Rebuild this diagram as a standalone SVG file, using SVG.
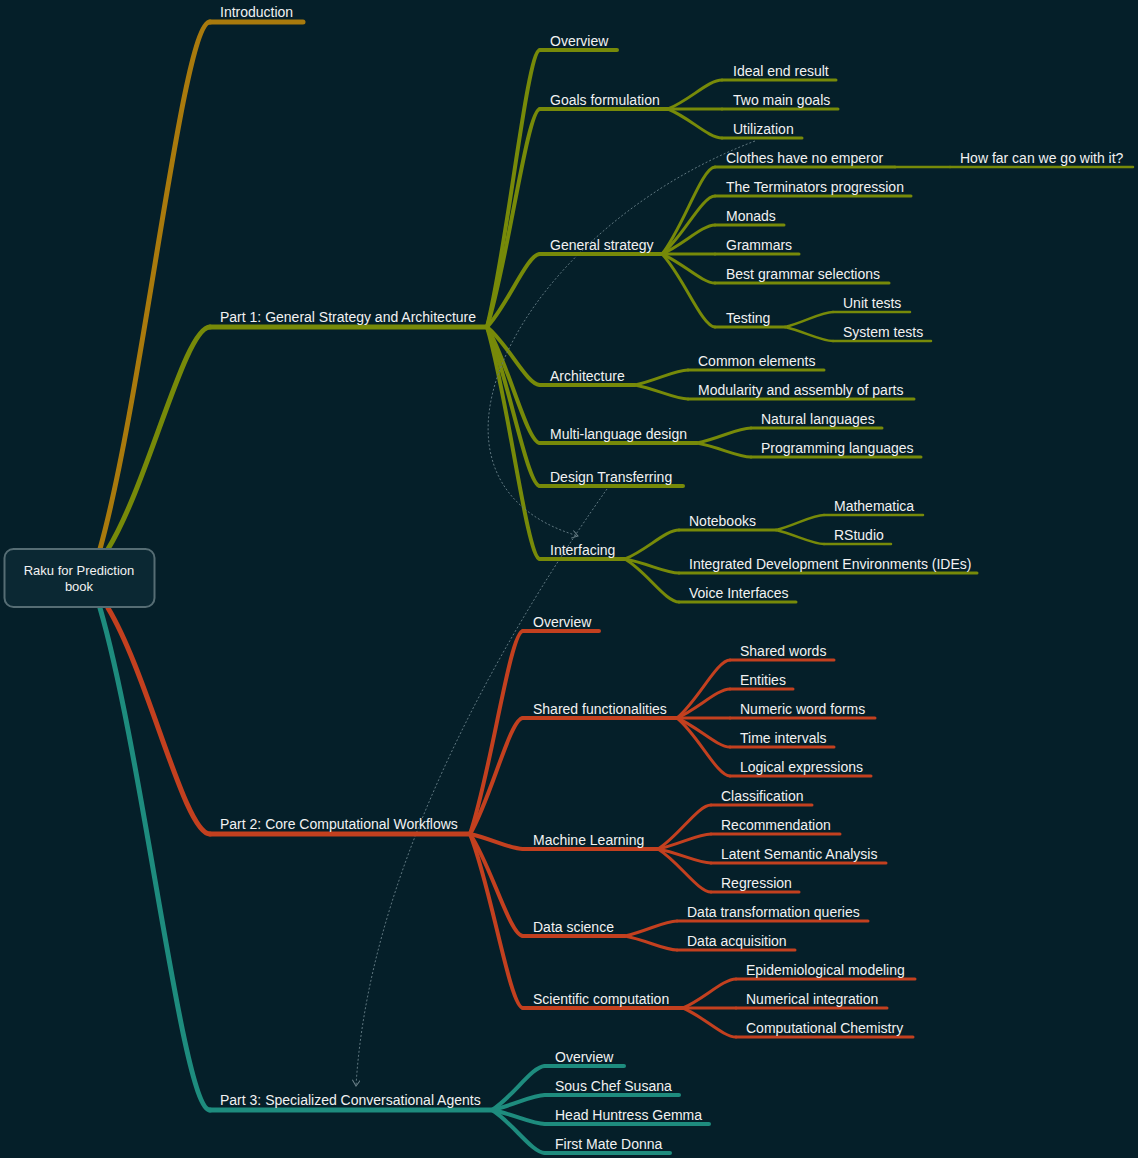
<svg xmlns="http://www.w3.org/2000/svg" width="1138" height="1158" viewBox="0 0 1138 1158">
<defs>
<style>
.bg{fill:#051f29}
.e{fill:none;stroke-linecap:round}
.u{stroke-linecap:round}
.l1{stroke-width:5}
.l2{stroke-width:4}
.l3{stroke-width:3}
.l4{stroke-width:2.5}
.gold{stroke:#a97a0d}
.olive{stroke:#778a09}
.red{stroke:#c3401f}
.teal{stroke:#1e8c7e}
text{font-family:"Liberation Sans",Arial,Helvetica,sans-serif;font-size:14px;fill:#f2f2f2}
.root text{font-size:13px;text-anchor:middle}
.link{fill:none;stroke:#5f7780;stroke-width:1;stroke-dasharray:2 2}
</style>
<marker id="arr" markerWidth="10" markerHeight="10" refX="7" refY="4" orient="auto" markerUnits="userSpaceOnUse">
<path d="M1,0 L7,4 L1,8" fill="none" stroke="#6b8088" stroke-width="1"/>
</marker>
</defs>
<rect class="bg" x="0" y="0" width="1138" height="1158"/>

<g id="connectors">
<path class="e l1 gold" d="M100,549 C144,391 182.5,22 210,22"/>
<path class="e l1 olive" d="M108,549 C149,482 184.5,327 210,327"/>
<path class="e l1 red" d="M108,608 C149,676 184.5,834 210,834"/>
<path class="e l1 teal" d="M100,608 C144,759 182.5,1110 210,1110"/>

<path class="e l2 olive" d="M487,327 C508,244 527,50 540,50"/>
<path class="e l2 olive" d="M487,327 C508,262 527,109 540,109"/>
<path class="e l2 olive" d="M487,327 C508,305 527,254 540,254"/>
<path class="e l2 olive" d="M487,327 C508,344 527,385 540,385"/>
<path class="e l2 olive" d="M487,327 C508,362 527,443 540,443"/>
<path class="e l2 olive" d="M487,327 C508,375 527,486 540,486"/>
<path class="e l2 olive" d="M487,327 C508,397 527,559 540,559"/>

<path class="e l3 olive" d="M668,109 C690,100 708.5,80 722,80"/>
<path class="e l3 olive" d="M668,109 L722,109"/>
<path class="e l3 olive" d="M668,109 C690,118 708.5,138 722,138"/>

<path class="e l3 olive" d="M662,254 C683,228 702,167 715,167"/>
<path class="e l3 olive" d="M662,254 C683,237 702,196 715,196"/>
<path class="e l3 olive" d="M662,254 C683,245 702,225 715,225"/>
<path class="e l3 olive" d="M662,254 L715,254"/>
<path class="e l3 olive" d="M662,254 C683,263 702,283 715,283"/>
<path class="e l3 olive" d="M662,254 C683,276 702,327 715,327"/>

<path class="e l4 olive" d="M895,167 L950,167"/>
<path class="e l4 olive" d="M785,327 C804,322.5 821,312 833,312"/>
<path class="e l4 olive" d="M785,327 C804,331.5 821,341 833,341"/>

<path class="e l3 olive" d="M635,385 C656,380.5 675,370 688,370"/>
<path class="e l3 olive" d="M635,385 C656,389 675,399 688,399"/>

<path class="e l3 olive" d="M697,443 C719,438.5 737.5,428 751,428"/>
<path class="e l3 olive" d="M697,443 C719,447 737.5,457 751,457"/>

<path class="e l3 olive" d="M625,559 C647,550 665.5,530 679,530"/>
<path class="e l3 olive" d="M625,559 C647,563 665.5,573 679,573"/>
<path class="e l3 olive" d="M625,559 C647,572 665.5,602 679,602"/>

<path class="e l4 olive" d="M776,530 C795,525.5 812,515 824,515"/>
<path class="e l4 olive" d="M776,530 C795,534.5 812,544 824,544"/>

<path class="e l2 red" d="M470,834 C491,773 510,631 523,631"/>
<path class="e l2 red" d="M470,834 C491,799 510,718 523,718"/>
<path class="e l2 red" d="M470,834 C491,838.5 510,849 523,849"/>
<path class="e l2 red" d="M470,834 C491,865 510,936 523,936"/>
<path class="e l2 red" d="M470,834 C491,886 510,1008 523,1008"/>

<path class="e l3 red" d="M677,718 C698,700.6 717,660 730,660"/>
<path class="e l3 red" d="M677,718 C698,709 717,689 730,689"/>
<path class="e l3 red" d="M677,718 L730,718"/>
<path class="e l3 red" d="M677,718 C698,727 717,747 730,747"/>
<path class="e l3 red" d="M677,718 C698,735 717,776 730,776"/>

<path class="e l3 red" d="M658,849 C679,836 698,805 711,805"/>
<path class="e l3 red" d="M658,849 C679,844.5 698,834 711,834"/>
<path class="e l3 red" d="M658,849 C679,853 698,863 711,863"/>
<path class="e l3 red" d="M658,849 C679,862 698,892 711,892"/>

<path class="e l3 red" d="M625,936 C646,931.5 664,921 677,921"/>
<path class="e l3 red" d="M625,936 C646,940 664,950 677,950"/>

<path class="e l3 red" d="M683,1008 C704,999 723,979 736,979"/>
<path class="e l3 red" d="M683,1008 L736,1008"/>
<path class="e l3 red" d="M683,1008 C704,1017 723,1037 736,1037"/>

<path class="e l2 teal" d="M492,1110 C513,1097 532,1066 545,1066"/>
<path class="e l2 teal" d="M492,1110 C513,1105.5 532,1095 545,1095"/>
<path class="e l2 teal" d="M492,1110 C513,1114 532,1124 545,1124"/>
<path class="e l2 teal" d="M492,1110 C513,1123 532,1153 545,1153"/>

<path class="link" d="M755,141 C520,230 390,480 578,536" marker-end="url(#arr)"/>
<path class="link" d="M607,489 C525,605 370,850 356,1086" marker-end="url(#arr)"/>
</g>

<g id="n-intro"><line class="u l1 gold" x1="210" y1="22" x2="303" y2="22"/><text x="220" y="17">Introduction</text></g>
<g id="n-part1"><line class="u l1 olive" x1="210" y1="327" x2="487" y2="327"/><text x="220" y="322">Part 1: General Strategy and Architecture</text></g>
<g id="n-part2"><line class="u l1 red" x1="210" y1="834" x2="470" y2="834"/><text x="220" y="829">Part 2: Core Computational Workflows</text></g>
<g id="n-part3"><line class="u l1 teal" x1="210" y1="1110" x2="492" y2="1110"/><text x="220" y="1105">Part 3: Specialized Conversational Agents</text></g>

<g id="n-p1-overview"><line class="u l2 olive" x1="540" y1="50" x2="617" y2="50"/><text x="550" y="46">Overview</text></g>
<g id="n-goals"><line class="u l2 olive" x1="540" y1="109" x2="668" y2="109"/><text x="550" y="105">Goals formulation</text></g>
<g id="n-ideal"><line class="u l3 olive" x1="722" y1="80" x2="836" y2="80"/><text x="733" y="76">Ideal end result</text></g>
<g id="n-twomain"><line class="u l3 olive" x1="722" y1="109" x2="838" y2="109"/><text x="733" y="105">Two main goals</text></g>
<g id="n-util"><line class="u l3 olive" x1="722" y1="138" x2="802" y2="138"/><text x="733" y="134">Utilization</text></g>

<g id="n-general"><line class="u l2 olive" x1="540" y1="254" x2="662" y2="254"/><text x="550" y="250">General strategy</text></g>
<g id="n-clothes"><line class="u l3 olive" x1="715" y1="167" x2="895" y2="167"/><text x="726" y="163">Clothes have no emperor</text></g>
<g id="n-howfar"><line class="u l4 olive" x1="950" y1="167" x2="1133" y2="167"/><text x="960" y="163">How far can we go with it?</text></g>
<g id="n-term"><line class="u l3 olive" x1="715" y1="196" x2="911" y2="196"/><text x="726" y="192">The Terminators progression</text></g>
<g id="n-monads"><line class="u l3 olive" x1="715" y1="225" x2="784" y2="225"/><text x="726" y="221">Monads</text></g>
<g id="n-grammars"><line class="u l3 olive" x1="715" y1="254" x2="799" y2="254"/><text x="726" y="250">Grammars</text></g>
<g id="n-best"><line class="u l3 olive" x1="715" y1="283" x2="889" y2="283"/><text x="726" y="279">Best grammar selections</text></g>
<g id="n-testing"><line class="u l3 olive" x1="715" y1="327" x2="785" y2="327"/><text x="726" y="323">Testing</text></g>
<g id="n-unit"><line class="u l4 olive" x1="833" y1="312" x2="910" y2="312"/><text x="843" y="308">Unit tests</text></g>
<g id="n-system"><line class="u l4 olive" x1="833" y1="341" x2="931" y2="341"/><text x="843" y="337">System tests</text></g>

<g id="n-arch"><line class="u l2 olive" x1="540" y1="385" x2="635" y2="385"/><text x="550" y="381">Architecture</text></g>
<g id="n-common"><line class="u l3 olive" x1="688" y1="370" x2="824" y2="370"/><text x="698" y="366">Common elements</text></g>
<g id="n-modul"><line class="u l3 olive" x1="688" y1="399" x2="914" y2="399"/><text x="698" y="395">Modularity and assembly of parts</text></g>

<g id="n-multi"><line class="u l2 olive" x1="540" y1="443" x2="697" y2="443"/><text x="550" y="439">Multi-language design</text></g>
<g id="n-natural"><line class="u l3 olive" x1="751" y1="428" x2="882" y2="428"/><text x="761" y="424">Natural languages</text></g>
<g id="n-prog"><line class="u l3 olive" x1="751" y1="457" x2="921" y2="457"/><text x="761" y="453">Programming languages</text></g>

<g id="n-design"><line class="u l2 olive" x1="540" y1="486" x2="683" y2="486"/><text x="550" y="482">Design Transferring</text></g>

<g id="n-interf"><line class="u l2 olive" x1="540" y1="559" x2="625" y2="559"/><text x="550" y="555">Interfacing</text></g>
<g id="n-notebooks"><line class="u l3 olive" x1="679" y1="530" x2="776" y2="530"/><text x="689" y="526">Notebooks</text></g>
<g id="n-mathematica"><line class="u l4 olive" x1="824" y1="515" x2="923" y2="515"/><text x="834" y="511">Mathematica</text></g>
<g id="n-rstudio"><line class="u l4 olive" x1="824" y1="544" x2="891" y2="544"/><text x="834" y="540">RStudio</text></g>
<g id="n-ides"><line class="u l3 olive" x1="679" y1="573" x2="977" y2="573"/><text x="689" y="569">Integrated Development Environments (IDEs)</text></g>
<g id="n-voice"><line class="u l3 olive" x1="679" y1="602" x2="796" y2="602"/><text x="689" y="598">Voice Interfaces</text></g>

<g id="n-p2-overview"><line class="u l2 red" x1="523" y1="631" x2="599" y2="631"/><text x="533" y="627">Overview</text></g>
<g id="n-shared"><line class="u l2 red" x1="523" y1="718" x2="677" y2="718"/><text x="533" y="714">Shared functionalities</text></g>
<g id="n-words"><line class="u l3 red" x1="730" y1="660" x2="834" y2="660"/><text x="740" y="656">Shared words</text></g>
<g id="n-entities"><line class="u l3 red" x1="730" y1="689" x2="793" y2="689"/><text x="740" y="685">Entities</text></g>
<g id="n-numeric"><line class="u l3 red" x1="730" y1="718" x2="875" y2="718"/><text x="740" y="714">Numeric word forms</text></g>
<g id="n-time"><line class="u l3 red" x1="730" y1="747" x2="834" y2="747"/><text x="740" y="743">Time intervals</text></g>
<g id="n-logical"><line class="u l3 red" x1="730" y1="776" x2="871" y2="776"/><text x="740" y="772">Logical expressions</text></g>

<g id="n-ml"><line class="u l2 red" x1="523" y1="849" x2="658" y2="849"/><text x="533" y="845">Machine Learning</text></g>
<g id="n-class"><line class="u l3 red" x1="711" y1="805" x2="812" y2="805"/><text x="721" y="801">Classification</text></g>
<g id="n-rec"><line class="u l3 red" x1="711" y1="834" x2="840" y2="834"/><text x="721" y="830">Recommendation</text></g>
<g id="n-lsa"><line class="u l3 red" x1="711" y1="863" x2="886" y2="863"/><text x="721" y="859">Latent Semantic Analysis</text></g>
<g id="n-reg"><line class="u l3 red" x1="711" y1="892" x2="799" y2="892"/><text x="721" y="888">Regression</text></g>

<g id="n-ds"><line class="u l2 red" x1="523" y1="936" x2="625" y2="936"/><text x="533" y="932">Data science</text></g>
<g id="n-dtq"><line class="u l3 red" x1="677" y1="921" x2="868" y2="921"/><text x="687" y="917">Data transformation queries</text></g>
<g id="n-da"><line class="u l3 red" x1="677" y1="950" x2="795" y2="950"/><text x="687" y="946">Data acquisition</text></g>

<g id="n-sci"><line class="u l2 red" x1="523" y1="1008" x2="683" y2="1008"/><text x="533" y="1004">Scientific computation</text></g>
<g id="n-epi"><line class="u l3 red" x1="736" y1="979" x2="915" y2="979"/><text x="746" y="975">Epidemiological modeling</text></g>
<g id="n-num"><line class="u l3 red" x1="736" y1="1008" x2="887" y2="1008"/><text x="746" y="1004">Numerical integration</text></g>
<g id="n-chem"><line class="u l3 red" x1="736" y1="1037" x2="913" y2="1037"/><text x="746" y="1033">Computational Chemistry</text></g>

<g id="n-p3-overview"><line class="u l2 teal" x1="545" y1="1066" x2="624" y2="1066"/><text x="555" y="1062">Overview</text></g>
<g id="n-sous"><line class="u l2 teal" x1="545" y1="1095" x2="679" y2="1095"/><text x="555" y="1091">Sous Chef Susana</text></g>
<g id="n-head"><line class="u l2 teal" x1="545" y1="1124" x2="709" y2="1124"/><text x="555" y="1120">Head Huntress Gemma</text></g>
<g id="n-first"><line class="u l2 teal" x1="545" y1="1153" x2="670" y2="1153"/><text x="555" y="1149">First Mate Donna</text></g>

<g id="n-root" class="root">
<rect x="4.5" y="549" width="150" height="58" rx="9" fill="#0b2833" stroke="#566d74" stroke-width="2"/>
<text x="79" y="575">Raku for Prediction</text>
<text x="79" y="591">book</text>
</g>
</svg>
